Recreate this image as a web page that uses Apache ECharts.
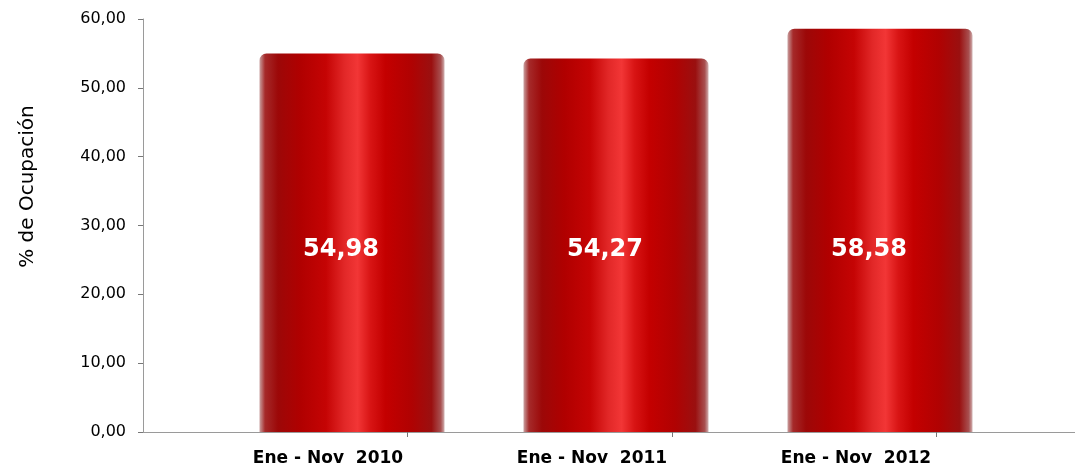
<!DOCTYPE html>
<html>
<head>
<meta charset="utf-8">
<script src="https://cdn.jsdelivr.net/npm/echarts@6/dist/echarts.min.js"></script>
<style>
html,body{margin:0;padding:0;background:#fff;}
#chart{width:1075px;height:469px;}
</style>
</head>
<body>
<div id="chart"></div>
<script>
const categories = ['Ene - Nov  2010', 'Ene - Nov  2011', 'Ene - Nov  2012'];
const ocupacion = [54.98, 54.27, 58.58];
const yTicks = [0, 10, 20, 30, 40, 50, 60];
const yAxisTitle = '% de Ocupación';

const fmt = v => v.toFixed(2).replace('.', ',');

const barGradient = {
  type: 'linear', x: 0, y: 0, x2: 1, y2: 0,
  colorStops: [
    {offset: 0.00, color: '#c9a0a0'},
    {offset: 0.03, color: '#a52a2a'},
    {offset: 0.10, color: '#9c0808'},
    {offset: 0.22, color: '#b00000'},
    {offset: 0.36, color: '#c50404'},
    {offset: 0.46, color: '#e22828'},
    {offset: 0.53, color: '#f23636'},
    {offset: 0.60, color: '#d81414'},
    {offset: 0.68, color: '#c40000'},
    {offset: 0.82, color: '#b00202'},
    {offset: 0.93, color: '#9a1010'},
    {offset: 0.98, color: '#a85050'},
    {offset: 1.00, color: '#d0b0b0'}
  ]
};

const chart = echarts.init(document.getElementById('chart'));
chart.setOption({
  animation: false,
  backgroundColor: '#ffffff',
  grid: [
    {left: 143, right: 0, top: 19, bottom: 37},
    {left: 220, right: 63, top: 19, bottom: 37}
  ],
  xAxis: [
    {
      gridIndex: 0, type: 'value', min: 0, max: 932 / 264.5, interval: 1,
      axisLine: {show: true, lineStyle: {color: '#9a9a9a', width: 1}},
      axisTick: {show: true, length: 5, customValues: [1, 2, 3], lineStyle: {color: '#777'}},
      axisLabel: {show: false},
      splitLine: {show: false}
    },
    {
      gridIndex: 1, type: 'category', data: categories,
      axisLine: {show: false}, axisTick: {show: false},
      axisLabel: {
        show: true, margin: 18, color: '#000',
        fontFamily: 'DejaVu Sans', fontWeight: 'bold', fontSize: 17,
        padding: [0, 48, 0, 0]
      }
    }
  ],
  yAxis: [
    {
      gridIndex: 0, type: 'value', min: yTicks[0], max: yTicks[yTicks.length - 1], interval: 10,
      name: yAxisTitle, nameLocation: 'middle', nameGap: 105, nameRotate: 90,
      nameTextStyle: {fontFamily: 'DejaVu Sans', fontSize: 20, color: '#000', padding: [0, 0, 0, 78]},
      axisLine: {show: true, lineStyle: {color: '#9a9a9a', width: 1}},
      axisTick: {show: true, length: 5, inside: false, lineStyle: {color: '#777'}},
      axisLabel: {
        margin: 17, color: '#000', fontFamily: 'DejaVu Sans', fontSize: 16,
        formatter: v => fmt(v)
      },
      splitLine: {show: false}
    },
    {
      gridIndex: 1, type: 'value', min: 0, max: 60, show: false
    }
  ],
  series: [
    {
      type: 'bar', xAxisIndex: 1, yAxisIndex: 1,
      data: ocupacion, barWidth: 185,
      itemStyle: {color: barGradient, borderRadius: [7, 7, 0, 0]},
      label: {
        show: true, position: 'insideBottom', distance: 170,
        color: '#fff', fontFamily: 'DejaVu Sans', fontWeight: 'bold', fontSize: 24,
        padding: [0, 22, 0, 0],
        formatter: p => fmt(p.value)
      }
    }
  ]
});
</script>
</body>
</html>
